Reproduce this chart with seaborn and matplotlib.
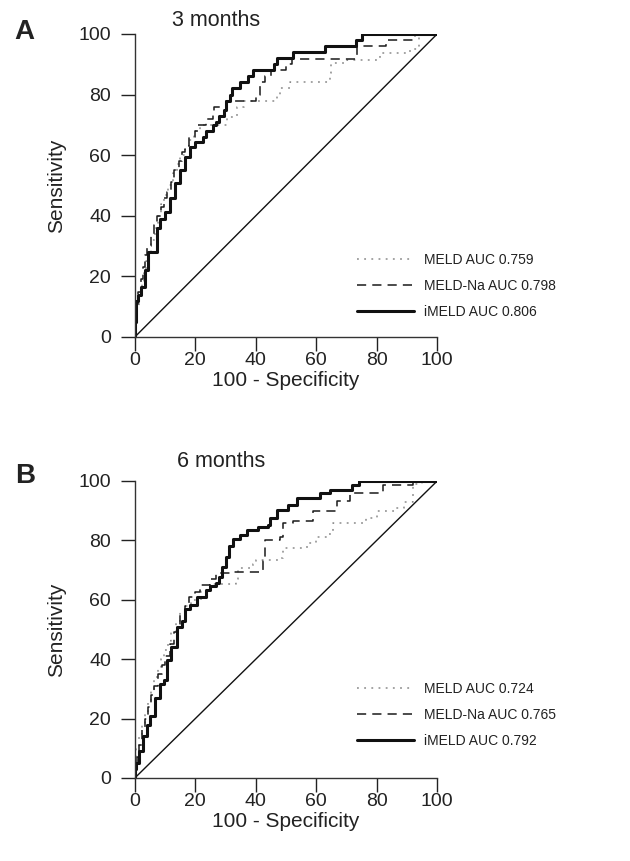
""" ROC curves of MELD, MELD-Na and iMELD at 3 and 6 months """

import pandas as pd
import matplotlib.pyplot as plt
import seaborn as sns

# ROC corners (100 - specificity, sensitivity)
# Panel A: 3 months
meld_3m_x = [0, 0, 0.8, 1.5, 2.3, 3, 3.8, 4.5, 5.5, 6.6, 7.5, 8.5, 9.5, 11, 12.5, 14, 15, 16.5, 18, 19.5,
             21.5, 30.4, 33.7, 36, 47, 48, 51.3, 64.6, 65, 70, 81, 91, 94, 100]
meld_3m_y = [0, 5, 10, 14, 18, 22, 25, 28, 32, 36, 40, 44, 47, 50, 54, 57, 60, 62, 65, 68,
             70, 72.6, 76, 78, 80, 82, 84.2, 87, 90.3, 91.4, 93.8, 95, 100, 100]
meldna_3m_x = [0, 0, 0.6, 1.2, 2, 2.8, 3.5, 4, 5.5, 6.3, 7.2, 8.5, 9.5, 10.5, 11.8, 13, 14.5, 15.5, 16.5,
               18, 20, 21, 23.5, 25.8, 26.3, 30, 40, 41.4, 43, 45, 50, 52, 73.5, 83, 92.5, 100]
meldna_3m_y = [0, 6, 11, 15, 19, 23, 27, 30, 34, 37, 40, 43, 46, 48, 51, 55, 58, 61, 63,
               66, 68, 70, 72, 74, 76, 78, 80, 84, 86, 88, 90, 91.7, 96, 98, 100, 100]
imeld_3m_x = [0, 0, 0.55, 1.2, 2.2, 3.3, 4.4, 7.2, 8.3, 9.9, 11.6, 13.2, 14.9, 16.5, 18.2, 19.9,
              22.6, 23.5, 26, 27, 28, 29.5, 30, 31.4, 32, 34.8, 37.5, 39.2, 46, 47, 52.4, 63, 73, 75, 100]
imeld_3m_y = [0, 5, 12, 14, 16.6, 22, 28, 35.9, 39, 41.4, 45.7, 50.7, 55, 59.5, 62.8, 64.5,
              66, 68, 70, 71, 73, 75, 78, 80, 82, 84, 86, 88, 90, 92, 94, 96, 98, 100, 100]

# Panel B: 6 months
meld_6m_x = [0, 0, 0.5, 1.5, 2.5, 3.5, 4.5, 5.5, 6.5, 7.5, 8.5, 9.5, 11, 12, 13.5, 15, 16.5, 18.5, 22, 25,
             33.5, 34, 39, 40, 47.5, 49, 57, 60, 63.5, 65.7, 76.6, 80, 86, 88.9, 92, 95, 100]
meld_6m_y = [0, 6, 10, 14, 18, 22, 26, 30, 34, 37, 40, 43, 46, 49, 53, 56, 58, 60, 62.8, 65.3,
             67, 70.7, 72, 73.5, 74, 77.4, 79, 81.2, 82.3, 86, 87.5, 90, 91, 93, 99, 100, 100]
meldna_6m_x = [0, 0, 0.6, 1.5, 2.5, 3.5, 4.5, 5.5, 6.5, 7.8, 9, 10, 11.5, 12.8, 14, 15, 16.5, 18, 20, 21.5,
               25, 27, 31.5, 42.5, 43, 48, 49, 52.4, 59, 66.7, 71, 82.2, 92, 100]
meldna_6m_y = [0, 4, 7, 11, 16, 20, 24, 28, 31, 35, 38, 41, 45, 49, 52, 55, 58, 61, 62.5, 65,
               67, 69, 69.5, 73, 80, 81.2, 86, 86.5, 89.8, 93.1, 95.9, 98.7, 100, 100]
imeld_6m_x = [0, 0, 0.55, 1.5, 2.8, 4, 5, 6.6, 8.3, 9.5, 10.5, 12.1, 13.8, 15.5, 16.6, 18.2, 20.4, 23.7,
              25, 27, 28, 28.7, 30.3, 31, 32.6, 34.8, 37, 40.8, 44.1, 44.7, 46.9, 50.8, 53.5, 61.3,
              64.6, 71.7, 74, 100]
imeld_6m_y = [0, 3, 5, 9, 14, 18, 21, 27, 31.8, 33, 39.7, 44, 50.9, 53, 57, 58.2, 61, 63.3,
              64.5, 65.6, 67.8, 71.2, 74.5, 78, 80.4, 81.8, 83.5, 84.4, 85.2, 87.4, 90.2, 92, 94.3, 95.9,
              97, 98.7, 100, 100]

panel_letters = ["A", "B"]
panel_titles = ["3 months", "6 months"]
labels_3m = ["MELD AUC 0.759", "MELD-Na AUC 0.798", "iMELD AUC 0.806"]
labels_6m = ["MELD AUC 0.724", "MELD-Na AUC 0.765", "iMELD AUC 0.792"]
ticks = [0, 20, 40, 60, 80, 100]

sns.set_style("ticks")
plt.rcParams["font.family"] = ["Liberation Sans", "DejaVu Sans"]

fig = plt.figure(figsize=(6.3, 8.61), dpi=100)
ax_a = fig.add_axes([0.214, 0.6086, 0.480, 0.352])
ax_b = fig.add_axes([0.214, 0.0964, 0.480, 0.345])

panels = [
    (ax_a, [(meld_3m_x, meld_3m_y), (meldna_3m_x, meldna_3m_y), (imeld_3m_x, imeld_3m_y)], labels_3m),
    (ax_b, [(meld_6m_x, meld_6m_y), (meldna_6m_x, meldna_6m_y), (imeld_6m_x, imeld_6m_y)], labels_6m),
]
styles = [
    dict(color="#8a8a8a", linewidth=1.1, linestyle=(0, (1.2, 3.5))),
    dict(color="#1a1a1a", linewidth=1.1, linestyle=(0, (6, 4))),
    dict(color="#111111", linewidth=2.2, linestyle="-"),
]
# placement per panel: title (x, y), letter y, legend top
title_pos = [(0.1225, 1.026), (0.139, 1.047)]
letter_y = [1.005, 1.015]
legend_top = [0.276, 0.322]

for i, (ax, curves, labels) in enumerate(panels):
    # reference diagonal
    sns.lineplot(x=[0, 100], y=[0, 100], ax=ax, color="#111111", linewidth=1.0, legend=False)
    for (xs, ys), lab, st in zip(curves, labels, styles):
        sns.lineplot(x=xs, y=ys, ax=ax, sort=False, estimator=None, drawstyle="steps-post",
                     label=lab, **st)
    ax.set_xlim(0, 100)
    ax.set_ylim(0, 100)
    ax.set_xticks(ticks)
    ax.set_yticks(ticks)
    ax.tick_params(labelsize=14, length=10, width=1, colors="#222222")
    ax.tick_params(axis="x", pad=1)
    ax.tick_params(axis="y", pad=7)
    for side in ["left", "bottom"]:
        ax.spines[side].set_color("#333333")
        ax.spines[side].set_linewidth(1)
    sns.despine(ax=ax)
    ax.set_xlabel("100 - Specificity", fontsize=15, color="#222222", labelpad=1)
    ax.set_ylabel("Sensitivity", fontsize=15, color="#222222", labelpad=9)
    ax.text(title_pos[i][0], title_pos[i][1], panel_titles[i], transform=ax.transAxes, fontsize=15.5,
            color="#222222", va="baseline")
    ax.text(-0.364, letter_y[i], panel_letters[i], transform=ax.transAxes, fontsize=20, fontweight="bold",
            color="#222222", ha="center", va="center")
    ax.legend(loc="upper left", bbox_to_anchor=(0.735, legend_top[i]), frameon=False, fontsize=10,
              handlelength=4.1, handletextpad=0.7, borderpad=0, borderaxespad=0, labelspacing=0.85,
              labelcolor="#222222")

fig.savefig("out.png", dpi=100)
